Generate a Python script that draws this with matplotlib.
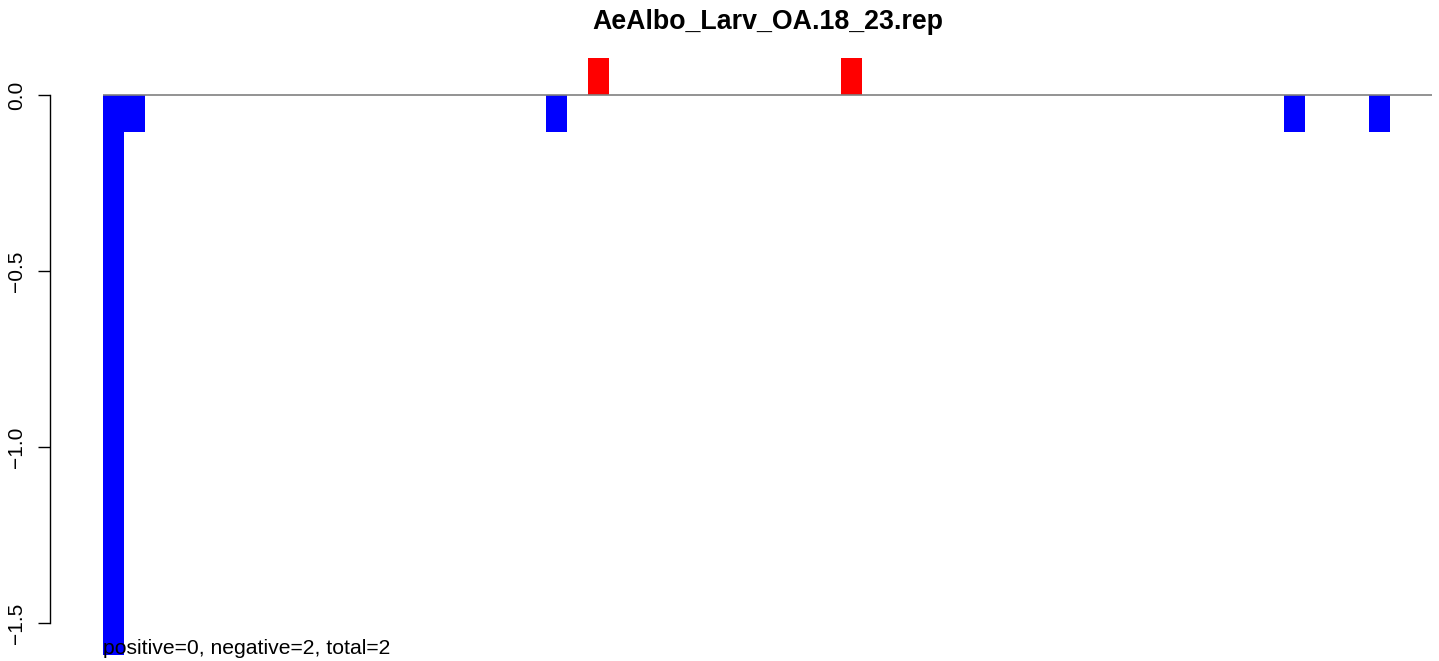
import matplotlib
matplotlib.use("Agg")
import matplotlib.pyplot as plt
import numpy as np

plt.rcParams['font.family'] = ['Liberation Sans', 'DejaVu Sans']

title = "AeAlbo_Larv_OA.18_23.rep"
n_bars = 63
bar_index = [0, 1, 21, 23, 35, 56, 60]
bar_value = [-1.59, -0.105, -0.105, 0.105, 0.105, -0.105, -0.105]
y_ticks = [0.0, -0.5, -1.0, -1.5]
y_tick_labels = ["0.0", "\u22120.5", "\u22121.0", "\u22121.5"]
note = "positive=0, negative=2, total=2"

W, H = 1439, 661
fig = plt.figure(figsize=(W / 100, H / 100), dpi=100)

# pixel layout
ax_left, ax_right = 50, 1439
ax_top, ax_bottom = 40, 655
bar0_px, barN_px = 103, 1432
zero_px = 95
px_per_unit = 352.0

ax = fig.add_axes([ax_left / W, 1 - ax_bottom / H, (ax_right - ax_left) / W, (ax_bottom - ax_top) / H])
bw = (barN_px - bar0_px) / n_bars
ax.set_xlim(-(bar0_px - ax_left) / bw, n_bars + (ax_right - barN_px) / bw)
ax.set_ylim(-(ax_bottom - zero_px) / px_per_unit, (zero_px - ax_top) / px_per_unit)

values = np.zeros(n_bars)
values[bar_index] = bar_value
colors = ['red' if v > 0 else 'blue' for v in values]
ax.bar(np.arange(n_bars), values, width=1.0, align='edge', color=colors, linewidth=0, zorder=2)
ax.hlines(0, 0, n_bars, colors='#808080', linewidth=1.2, zorder=3)

for s in ['top', 'right', 'bottom']:
    ax.spines[s].set_visible(False)
ax.spines['left'].set_bounds(-1.5, 0)
ax.spines['left'].set_linewidth(1.0)
ax.set_xticks([])
ax.set_yticks(y_ticks)
ax.set_yticklabels(y_tick_labels, rotation=90, va='center', fontsize=15)
ax.tick_params(axis='y', length=9, width=1.0, pad=8)

fig.text(768 / W, 1 - 22 / H, title, ha='center', va='center', fontsize=19.3, fontweight='bold')
fig.text(103 / W, 1 - 648 / H, note, ha='left', va='center', fontsize=15.2, zorder=5)

fig.savefig("out.png", dpi=100)
